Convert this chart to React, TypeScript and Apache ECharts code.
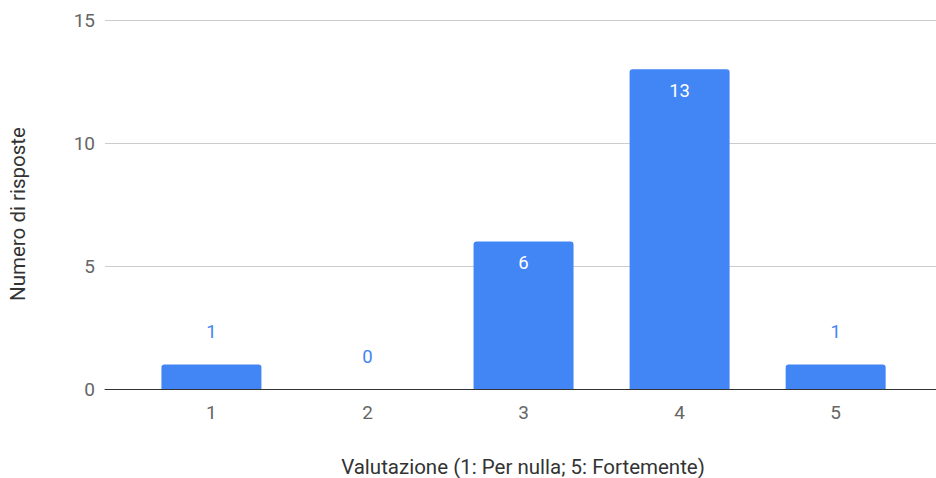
import React, { useEffect, useRef } from "react";
import * as echarts from "echarts";

const categories = [1, 2, 3, 4, 5];
const values = [1, 0, 6, 13, 1];
const yTicks = [0, 5, 10, 15];
const xTitle = "Valutazione (1: Per nulla; 5: Fortemente)";
const yTitle = "Numero di risposte";

export default function App() {
  const ref = useRef<HTMLDivElement>(null);
  useEffect(() => {
    if (!ref.current) return;
    const chart = echarts.init(ref.current, undefined, { renderer: "svg" });
    const blue = "#4285F4";
    const font = "Roboto";
    const data = categories.map((c, i) => {
      const v = values[i];
      const inside = v >= 3;
      return {
        value: [c, v],
        label: inside
          ? { position: "insideTop", distance: 12, color: "#ffffff" }
          : { position: "top", distance: 23, color: blue },
      };
    });
    chart.setOption({
      animation: false,
      grid: { left: 105, right: 0, top: 20, bottom: 89, containLabel: false },
      xAxis: {
        type: "value",
        min: 0.318,
        max: 5.643,
        axisLine: { show: true, lineStyle: { color: "#333333", width: 1 } },
        axisTick: { show: false },
        splitLine: { show: false },
        axisLabel: {
          customValues: categories,
          color: "#666666",
          fontSize: 19,
          fontFamily: font,
          margin: 14,
        },
      },
      yAxis: {
        type: "value",
        min: 0,
        max: 15,
        interval: 5,
        axisLine: { show: false },
        axisTick: { show: false },
        splitLine: { show: true, lineStyle: { color: "#cccccc", width: 1 } },
        axisLabel: {
          customValues: yTicks,
          color: "#666666",
          fontSize: 19,
          fontFamily: font,
          margin: 10,
        },
      },
      graphic: [
        {
          type: "text",
          x: 523,
          y: 467,
          style: {
            text: xTitle,
            fontSize: 20.5,
            fontFamily: font,
            fill: "#333333",
            textAlign: "center",
            textVerticalAlign: "middle",
          },
        },
        {
          type: "text",
          x: 18,
          y: 214,
          rotation: Math.PI / 2,
          style: {
            text: yTitle,
            fontSize: 20.5,
            fontFamily: font,
            fill: "#333333",
            textAlign: "center",
            textVerticalAlign: "middle",
          },
        },
      ],
      series: [
        {
          type: "bar",
          barWidth: 100,
          data,
          itemStyle: { color: blue, borderRadius: [3, 3, 0, 0] },
          label: {
            show: true,
            fontSize: 18.5,
            fontFamily: font,
          },
        },
      ],
    });
    return () => chart.dispose();
  }, []);
  return <div ref={ref} style={{ width: 936, height: 478, position: "absolute", left: 0, top: 0 }} />;
}
